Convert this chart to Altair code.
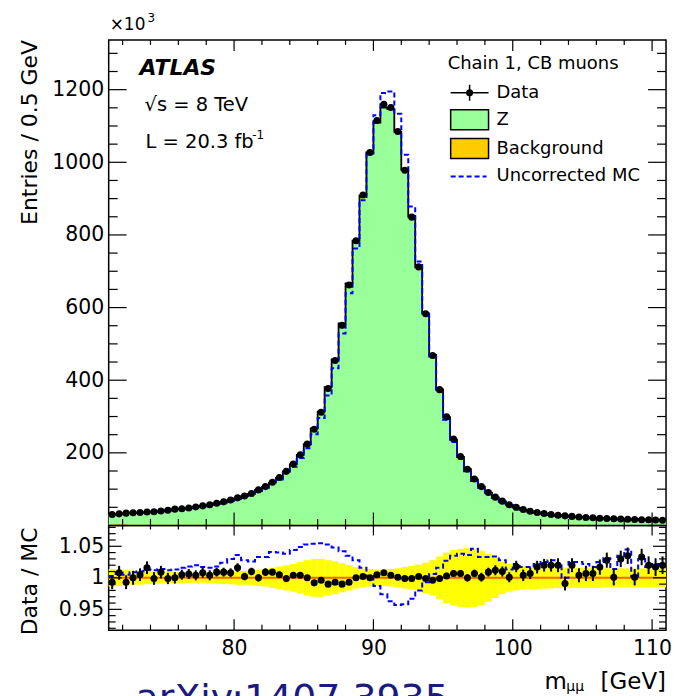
import altair as alt
import numpy as np
import pandas as pd

FONT = "DejaVu Sans"

# ---------------- data ----------------
x_min, x_max, bin_w = 71.0, 111.0, 0.5

# data entries per 0.5 GeV bin (x10^3), bins from 71.0 to 111.0 GeV
data_k = [30, 32, 34, 35, 35.6, 37, 38, 40, 42, 45,
          46, 48, 51, 54, 57, 61, 65, 70, 76, 81,
          88, 98, 107, 119, 132, 149, 169, 195, 224, 265,
          312, 377, 454, 551, 662, 784, 910, 1027, 1115, 1160,
          1151, 1085, 978, 849, 712, 583, 468, 374, 299, 238,
          190, 155, 128, 107, 91, 78, 67, 57, 50, 44,
          39, 36, 33, 30, 28, 26.5, 25, 23.5, 22, 21,
          20, 19, 18.5, 17.7, 17, 16.5, 16, 15.5, 15, 14.5]

# data / MC ratio
ratio = [0.993, 1.008, 0.993, 1.000, 1.005, 1.016, 0.999, 1.009, 0.999, 1.000,
         1.005, 1.006, 1.004, 1.008, 1.004, 1.009, 1.009, 1.008, 1.016, 1.002,
         1.010, 1.000, 1.009, 1.009, 1.005, 0.999, 1.004, 1.004, 1.000, 0.992,
         0.996, 0.990, 0.993, 0.990, 0.993, 1.000, 1.002, 1.000, 1.005, 1.008,
         1.004, 1.001, 0.999, 0.999, 1.002, 0.999, 0.996, 0.999, 1.003, 1.007,
         1.007, 1.000, 1.007, 1.001, 1.009, 1.012, 1.010, 1.001, 1.018, 1.004,
         1.007, 1.017, 1.020, 1.020, 1.020, 0.991, 1.020, 1.004, 1.007, 1.007,
         1.017, 1.028, 1.001, 1.030, 1.035, 1.001, 1.033, 1.020, 1.017, 1.020]

ratio_err = [0.011, 0.011, 0.011, 0.011, 0.010, 0.010, 0.010, 0.010, 0.009, 0.009,
             0.008, 0.008, 0.008, 0.008, 0.008, 0.007, 0.007, 0.007, 0.007, 0.006,
             0.006, 0.006, 0.006, 0.005, 0.005, 0.005, 0.004, 0.004, 0.004, 0.003,
             0.003, 0.003, 0.003, 0.003, 0.003, 0.003, 0.003, 0.003, 0.003, 0.003,
             0.003, 0.003, 0.003, 0.003, 0.003, 0.003, 0.004, 0.004, 0.005, 0.005,
             0.005, 0.006, 0.006, 0.007, 0.007, 0.008, 0.008, 0.008, 0.009, 0.009,
             0.009, 0.010, 0.010, 0.010, 0.011, 0.011, 0.011, 0.011, 0.012, 0.012,
             0.012, 0.012, 0.013, 0.013, 0.013, 0.013, 0.013, 0.014, 0.014, 0.014]

# data / uncorrected MC ratio
uncorr_ratio = [1.003, 1.008, 1.005, 1.009, 1.010, 1.013, 1.012, 1.014, 1.012, 1.013,
                1.016, 1.018, 1.020, 1.017, 1.016, 1.018, 1.024, 1.030, 1.036, 1.028,
                1.026, 1.033, 1.033, 1.041, 1.040, 1.038, 1.044, 1.049, 1.053, 1.054,
                1.055, 1.053, 1.048, 1.042, 1.035, 1.028, 1.016, 1.003, 0.987, 0.974,
                0.963, 0.957, 0.958, 0.967, 0.980, 0.993, 1.006, 1.016, 1.027, 1.035,
                1.038, 1.036, 1.046, 1.033, 1.033, 1.034, 1.028, 1.013, 1.022, 1.017,
                1.017, 1.022, 1.025, 1.028, 1.020, 1.000, 1.025, 1.025, 1.022, 1.017,
                1.025, 1.031, 1.014, 1.035, 1.045, 1.002, 1.030, 1.017, 1.022, 1.020]

# half width of the MC systematic band
syst_hw = [0.014, 0.013, 0.012, 0.011, 0.011, 0.010, 0.010, 0.009, 0.009, 0.009,
           0.009, 0.008, 0.008, 0.008, 0.009, 0.009, 0.010, 0.010, 0.011, 0.011,
           0.012, 0.013, 0.014, 0.016, 0.018, 0.020, 0.022, 0.025, 0.028, 0.030,
           0.030, 0.028, 0.026, 0.023, 0.020, 0.017, 0.015, 0.014, 0.013, 0.013,
           0.014, 0.015, 0.017, 0.019, 0.021, 0.024, 0.028, 0.034, 0.040, 0.044,
           0.046, 0.047, 0.046, 0.043, 0.038, 0.032, 0.026, 0.022, 0.020, 0.019,
           0.018, 0.018, 0.017, 0.017, 0.016, 0.016, 0.016, 0.016, 0.016, 0.016,
           0.016, 0.015, 0.015, 0.015, 0.015, 0.015, 0.015, 0.015, 0.015, 0.015]

# background (x10^3)
bkg_k = [2.4, 2.4, 2.3, 2.3, 2.3, 2.2, 2.2, 2.2, 2.1, 2.1,
         2.1, 2.0, 2.0, 2.0, 2.0, 2.0, 2.0, 2.0, 2.0, 2.0,
         2.0, 2.0, 2.0, 2.0, 2.0, 2.0, 2.0, 2.0, 2.0, 2.0,
         2.0, 2.0, 2.0, 2.0, 2.0, 2.0, 2.0, 2.0, 2.0, 2.0,
         2.0, 2.0, 2.0, 2.0, 2.0, 2.0, 2.0, 2.0, 2.0, 2.0,
         2.0, 2.0, 1.9, 1.9, 1.9, 1.9, 1.9, 1.8, 1.8, 1.8,
         1.8, 1.8, 1.8, 1.7, 1.7, 1.7, 1.7, 1.7, 1.7, 1.6,
         1.6, 1.6, 1.6, 1.6, 1.6, 1.5, 1.5, 1.5, 1.5, 1.5]

# axis ticks
y_labels = [200, 400, 600, 800, 1000, 1200]
y_major = [0, 200, 400, 600, 800, 1000, 1200]
y_minor = [50, 100, 150, 250, 300, 350, 450, 500, 550, 650, 700, 750,
           850, 900, 950, 1050, 1100, 1150, 1250, 1300]
x_major = [80, 90, 100, 110]
x_minor = [72, 74, 76, 78, 82, 84, 86, 88, 92, 94, 96, 98, 102, 104, 106, 108]
r_major = [0.95, 1.0, 1.05]
r_minor = [0.92, 0.93, 0.94, 0.96, 0.97, 0.98, 0.99, 1.01, 1.02, 1.03, 1.04,
           1.06, 1.07, 1.08]

# ---------------- tables ----------------
edges = np.round(np.arange(x_min, x_max + 1e-9, bin_w), 3)
lo, hi = edges[:-1], edges[1:]
cen = (lo + hi) / 2
d = np.array(data_k)
r = np.array(ratio)
mc = d / r
unc = d / np.array(uncorr_ratio)
err = np.array(ratio_err)
hw = np.array(syst_hw)
bk = np.array(bkg_k)

bins = pd.DataFrame(dict(lo=lo, hi=hi, c=cen, data=d, r=r, rlo=r - err, rhi=r + err,
                         blo=1 - hw, bhi=1 + hw))
step = pd.DataFrame(dict(x=edges,
                         mc=np.append(mc, mc[-1]),
                         bkg=np.append(bk, bk[-1]),
                         unc=np.append(unc, unc[-1]),
                         ru=np.append(uncorr_ratio, uncorr_ratio[-1])))
ONE = pd.DataFrame({"k": [0]})

W, H_MAIN, H_RATIO, H_FOOT = 559, 487, 105, 66

xs = alt.Scale(domain=[x_min, x_max], nice=False, zero=False)
ys = alt.Scale(domain=[0, 1337], nice=False, zero=True)
rs = alt.Scale(domain=[0.917, 1.083], nice=False, zero=False)

y_axis = alt.Axis(values=y_labels, format="d", ticks=False, domain=False, grid=False, title=None,
                  labelFont=FONT, labelFontSize=20.5, labelPadding=5, labelColor="black")
r_axis = alt.Axis(values=r_major, format="~g", ticks=False, domain=False, grid=False,
                  title=None, labelFont=FONT, labelFontSize=20.5, labelPadding=5,
                  labelColor="black")
xr_axis = alt.Axis(values=x_major, format="d", ticks=False, domain=False, grid=False,
                   title=None, labelFont=FONT, labelFontSize=20.5, labelPadding=8,
                   labelColor="black")


def X(field, axis=None):
    return alt.X(field, scale=xs, axis=axis)


def txt(s, x, y, size, align="left", baseline="middle", color="black", **kw):
    return alt.Chart(ONE).mark_text(text=s, font=FONT, fontSize=size, align=align,
                                    baseline=baseline, color=color, **kw).encode(
        x=alt.value(x), y=alt.value(y))


def vticks(vals, scale, axis, x0, x1):
    return alt.Chart(pd.DataFrame({"v": vals})).mark_rule(color="black", strokeWidth=1.2).encode(
        y=alt.Y("v:Q", scale=scale, axis=axis), x=alt.value(x0), x2=alt.value(x1))


def hticks(vals, y0, y1, axis=None):
    return alt.Chart(pd.DataFrame({"v": vals})).mark_rule(color="black", strokeWidth=1.2).encode(
        x=alt.X("v:Q", scale=xs, axis=axis), y=alt.value(y0), y2=alt.value(y1))


# ---------------- main panel ----------------
z_area = alt.Chart(step).mark_area(interpolate="step-after", color="#99ff99").encode(
    x=X("x:Q"), y=alt.Y("mc:Q", scale=ys, axis=y_axis))
b_area = alt.Chart(step).mark_area(interpolate="step-after", color="#ffcc00").encode(
    x=X("x:Q"), y=alt.Y("bkg:Q", scale=ys, axis=y_axis))
z_line = alt.Chart(step).mark_line(interpolate="step-after", color="black", strokeWidth=1.8).encode(
    x=X("x:Q"), y=alt.Y("mc:Q", scale=ys, axis=y_axis))
u_line = alt.Chart(step).mark_line(interpolate="step-after", color="#0000ff", strokeWidth=2,
                                   strokeDash=[5, 3]).encode(
    x=X("x:Q"), y=alt.Y("unc:Q", scale=ys, axis=y_axis))
pts = alt.Chart(bins).mark_circle(size=50, color="black", opacity=1).encode(
    x=X("c:Q"), y=alt.Y("data:Q", scale=ys, axis=y_axis))

main_ticks = [
    vticks(y_major, ys, y_axis, 0, 18), vticks(y_minor, ys, y_axis, 0, 9),
    vticks(y_major, ys, y_axis, W, W - 18), vticks(y_minor, ys, y_axis, W, W - 9),
    hticks(x_major, H_MAIN, H_MAIN - 13), hticks(x_minor, H_MAIN, H_MAIN - 6.5),
    hticks(x_major, 0, 11), hticks(x_minor, 0, 5),
]

leg = [
    txt("Chain 1, CB muons", 340, 24, 18),
    alt.Chart(ONE).mark_rule(color="black", strokeWidth=1.5).encode(
        x=alt.value(343), x2=alt.value(381), y=alt.value(53)),
    alt.Chart(ONE).mark_rule(color="black", strokeWidth=1.5).encode(
        x=alt.value(362), y=alt.value(45), y2=alt.value(61)),
    alt.Chart(ONE).mark_circle(size=50, color="black", opacity=1).encode(
        x=alt.value(362), y=alt.value(53)),
    txt("Data", 389, 53, 18),
    alt.Chart(ONE).mark_rect(color="#99ff99", stroke="black", strokeWidth=1.5).encode(
        x=alt.value(343), x2=alt.value(381), y=alt.value(70), y2=alt.value(90)),
    txt("Z", 389, 80, 18),
    alt.Chart(ONE).mark_rect(color="#ffcc00", stroke="black", strokeWidth=1.5).encode(
        x=alt.value(343), x2=alt.value(381), y=alt.value(99), y2=alt.value(119)),
    txt("Background", 389, 109, 18),
    alt.Chart(ONE).mark_rule(color="#0000ff", strokeWidth=2, strokeDash=[5, 3]).encode(
        x=alt.value(343), x2=alt.value(379), y=alt.value(137)),
    txt("Uncorrected MC", 389, 137, 18),
]

labels_main = [
    txt("ATLAS", 31, 28, 22, fontWeight="bold", fontStyle="italic"),
    txt("\u221as = 8 TeV", 36, 65, 19.5),
    txt("L = 20.3 fb", 37, 102, 19.5),
    txt("-1", 144, 95, 12),
    txt("\u00d710", 1, -10, 17, baseline="alphabetic"),
    txt("3", 39, -18, 12, baseline="alphabetic"),
    txt("Entries / 0.5 GeV", -79, 0, 22, align="right", angle=270),
    # invisible anchor that fixes the page extent (left, top, right)
    alt.Chart(ONE).mark_rule(opacity=0).encode(
        x=alt.value(-108), x2=alt.value(W + 8), y=alt.value(-38)),
]

main = alt.layer(z_area, b_area, z_line, u_line, pts, *main_ticks, *leg, *labels_main).properties(
    width=W, height=H_MAIN, view=alt.ViewBackground(stroke="black", strokeWidth=1.5))

# ---------------- ratio panel ----------------
band = alt.Chart(bins).mark_rect(color="#ffff00").encode(
    x=X("lo:Q", xr_axis), x2="hi:Q", y=alt.Y("blo:Q", scale=rs, axis=r_axis), y2="bhi:Q")
one_line = alt.Chart(pd.DataFrame({"v": [1.0]})).mark_rule(color="#ff6600", strokeWidth=2).encode(
    y=alt.Y("v:Q", scale=rs, axis=r_axis))
ru_line = alt.Chart(step).mark_line(interpolate="step-after", color="#0000ff", strokeWidth=2,
                                    strokeDash=[5, 3]).encode(
    x=X("x:Q", xr_axis), y=alt.Y("ru:Q", scale=rs, axis=r_axis))
ebars = alt.Chart(bins).mark_rule(color="black", strokeWidth=2).encode(
    x=X("c:Q", xr_axis), y=alt.Y("rlo:Q", scale=rs, axis=r_axis), y2="rhi:Q")
rpts = alt.Chart(bins).mark_circle(size=50, color="black", opacity=1).encode(
    x=X("c:Q", xr_axis), y=alt.Y("r:Q", scale=rs, axis=r_axis))

ratio_ticks = [
    vticks(r_major, rs, r_axis, 0, 13), vticks(r_minor, rs, r_axis, 0, 7),
    vticks(r_major, rs, r_axis, W, W - 13), vticks(r_minor, rs, r_axis, W, W - 7),
    hticks(x_major, H_RATIO, H_RATIO - 11, xr_axis), hticks(x_minor, H_RATIO, H_RATIO - 5.5, xr_axis),
    hticks(x_major, 0, 10, xr_axis), hticks(x_minor, 0, 4, xr_axis),
]

ratio_panel = alt.layer(band, one_line, ru_line, ebars, rpts, *ratio_ticks,
                        txt("Data / MC", -79, 2, 22, align="right", angle=270)).properties(
    width=W, height=H_RATIO, view=alt.ViewBackground(stroke="black", strokeWidth=1.5))

# ---------------- footer (x title + arXiv stamp) ----------------
foot = alt.layer(
    txt("arXiv:1407.3935", 27, 81, 38, baseline="alphabetic", color="#1a1a80", clip=True),
    txt("m", 437, 59, 23, baseline="alphabetic", clip=True),
    txt("\u03bc\u03bc", 459, 61, 14, baseline="alphabetic", clip=True),
    txt("[GeV]", W, 59, 23, align="right", baseline="alphabetic", clip=True),
).properties(width=W, height=H_FOOT,
             view=alt.ViewBackground(stroke="transparent", strokeWidth=0))

chart = alt.vconcat(main, ratio_panel, foot, spacing=0, bounds="flush", padding=0).configure(
    font=FONT).configure_view(strokeWidth=0)

chart.save("out.html", embed_options={"renderer": "svg", "actions": False})
